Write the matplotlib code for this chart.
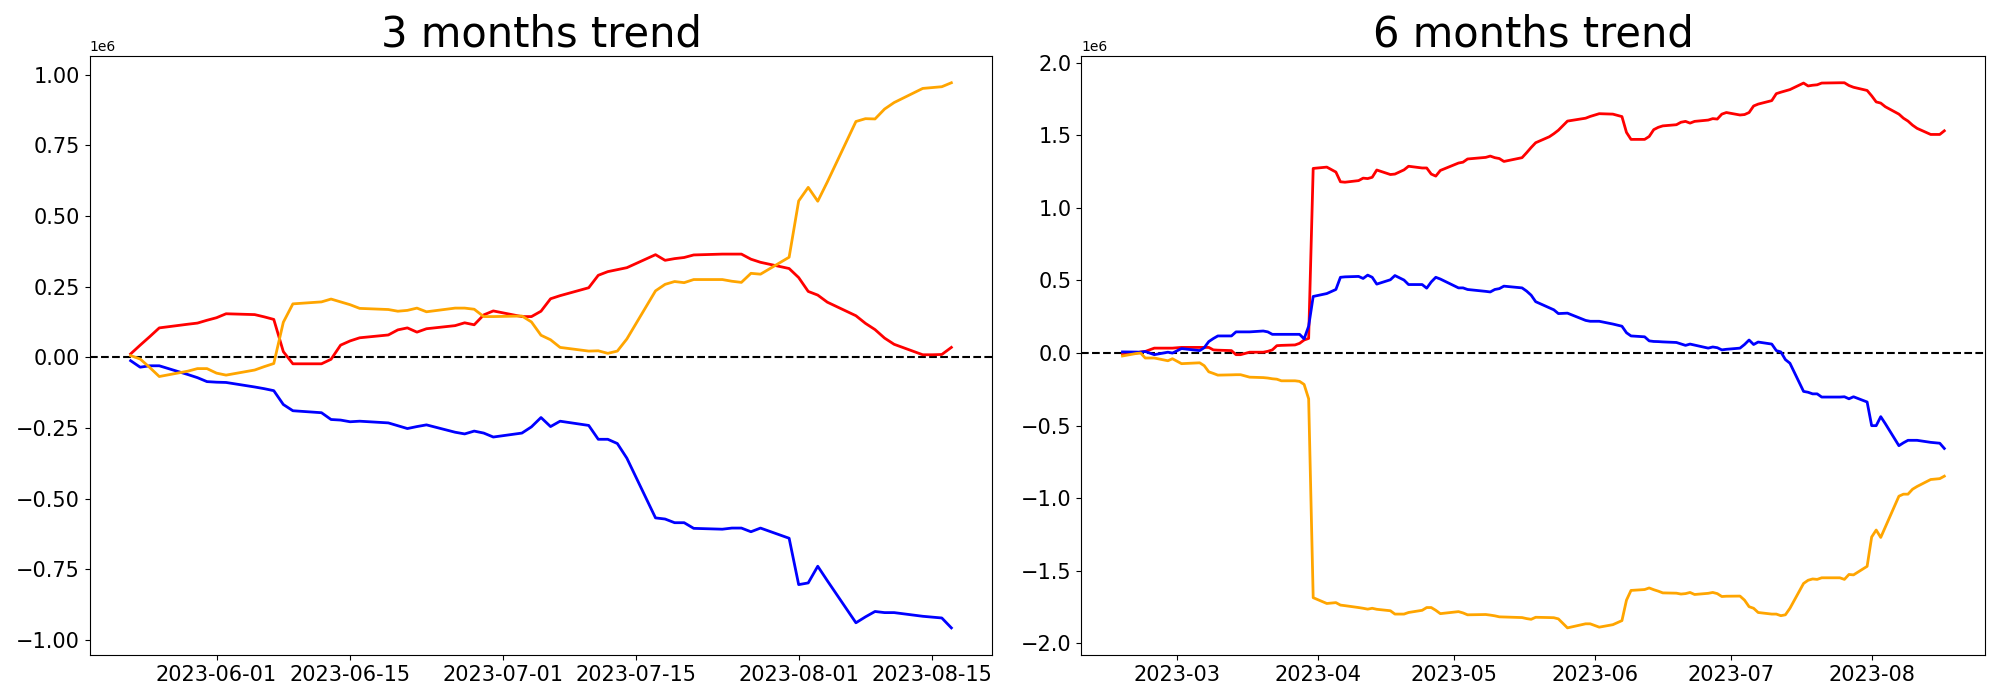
import pandas as pd
from matplotlib import pyplot as plt

# 3 months window: every weekday from 2023-05-23 to 2023-08-17
dates_3m = pd.bdate_range('2023-05-23', '2023-08-17')

red_3m = [
    # may
    0.012, 0.043, 0.073, 0.104, 0.117, 0.121, 0.131,
    # june
    0.140, 0.154, 0.151, 0.143, 0.134, 0.020, -0.023, -0.023, -0.007, 0.043, 0.058,
    0.069, 0.079, 0.097, 0.104, 0.089, 0.101, 0.112, 0.122, 0.115, 0.150, 0.164,
    # july
    0.144, 0.144, 0.163, 0.207, 0.218, 0.246, 0.290, 0.303, 0.310, 0.317, 0.363,
    0.343, 0.349, 0.353, 0.362, 0.365, 0.365, 0.365, 0.347, 0.336, 0.314,
    # august
    0.282, 0.233, 0.220, 0.195, 0.147, 0.120, 0.098, 0.068, 0.046, 0.009, 0.009, 0.010, 0.035,
]
blue_3m = [
    -0.012, -0.035, -0.030, -0.030, -0.061, -0.072, -0.086,
    -0.088, -0.089, -0.105, -0.111, -0.118, -0.167, -0.189, -0.196, -0.220, -0.222, -0.228,
    -0.226, -0.232, -0.242, -0.252, -0.245, -0.239, -0.265, -0.271, -0.261, -0.268, -0.282,
    -0.268, -0.246, -0.213, -0.245, -0.226, -0.241, -0.290, -0.290, -0.305, -0.357, -0.568,
    -0.572, -0.585, -0.585, -0.605, -0.608, -0.604, -0.604, -0.617, -0.604, -0.640,
    -0.804, -0.798, -0.739, -0.790, -0.939, -0.918, -0.899, -0.903, -0.903, -0.916, -0.919, -0.922, -0.957,
]
orange_3m = [
    0.006, -0.006, -0.036, -0.068, -0.049, -0.040, -0.040,
    -0.056, -0.063, -0.045, -0.033, -0.022, 0.124, 0.189, 0.196, 0.206, 0.196, 0.186,
    0.173, 0.169, 0.163, 0.166, 0.174, 0.161, 0.174, 0.174, 0.170, 0.144, 0.144,
    0.146, 0.125, 0.078, 0.062, 0.035, 0.022, 0.023, 0.014, 0.022, 0.065, 0.235,
    0.258, 0.268, 0.264, 0.275, 0.275, 0.269, 0.265, 0.297, 0.294, 0.354,
    0.553, 0.601, 0.552, 0.620, 0.834, 0.844, 0.843, 0.878, 0.901, 0.951, 0.954, 0.957, 0.971,
]

# 6 months window, sampled days
dates_6m = pd.to_datetime([
    '2023-02-17', '2023-02-20', '2023-02-21', '2023-02-22', '2023-02-24', '2023-02-27', '2023-02-28',
    '2023-03-02', '2023-03-06', '2023-03-07', '2023-03-08', '2023-03-09', '2023-03-10', '2023-03-13',
    '2023-03-14', '2023-03-15', '2023-03-17', '2023-03-20', '2023-03-21', '2023-03-22', '2023-03-23',
    '2023-03-24', '2023-03-27', '2023-03-28', '2023-03-29', '2023-03-30', '2023-03-31',
    '2023-04-03', '2023-04-05', '2023-04-06', '2023-04-07', '2023-04-10', '2023-04-11', '2023-04-12',
    '2023-04-13', '2023-04-14', '2023-04-17', '2023-04-18', '2023-04-20', '2023-04-21', '2023-04-24',
    '2023-04-25', '2023-04-26', '2023-04-27', '2023-04-28',
    '2023-05-02', '2023-05-03', '2023-05-04', '2023-05-08', '2023-05-09', '2023-05-10', '2023-05-11',
    '2023-05-12', '2023-05-16', '2023-05-17', '2023-05-18', '2023-05-19', '2023-05-22', '2023-05-23',
    '2023-05-24', '2023-05-26', '2023-05-30', '2023-05-31',
    '2023-06-02', '2023-06-05', '2023-06-07', '2023-06-08', '2023-06-09', '2023-06-12', '2023-06-13',
    '2023-06-14', '2023-06-15', '2023-06-16', '2023-06-19', '2023-06-20', '2023-06-21', '2023-06-22',
    '2023-06-23', '2023-06-26', '2023-06-27', '2023-06-28', '2023-06-29', '2023-06-30',
    '2023-07-03', '2023-07-04', '2023-07-05', '2023-07-06', '2023-07-07', '2023-07-10', '2023-07-11',
    '2023-07-12', '2023-07-13', '2023-07-14', '2023-07-17', '2023-07-18', '2023-07-19', '2023-07-20',
    '2023-07-21', '2023-07-25', '2023-07-26', '2023-07-27', '2023-07-28', '2023-07-31',
    '2023-08-01', '2023-08-02', '2023-08-03', '2023-08-04', '2023-08-07', '2023-08-08', '2023-08-09',
    '2023-08-10', '2023-08-11', '2023-08-14', '2023-08-16', '2023-08-17',
])

red_6m = [
    # feb
    -0.010, 0.000, 0.008, 0.011, 0.034, 0.034, 0.034,
    # mar
    0.039, 0.039, 0.039, 0.039, 0.022, 0.020, 0.017, -0.011, -0.011, 0.006, 0.006, 0.012,
    0.022, 0.051, 0.053, 0.056, 0.067, 0.090, 0.101, 1.272,
    # apr
    1.281, 1.247, 1.180, 1.177, 1.188, 1.205, 1.202, 1.211, 1.261, 1.230, 1.233, 1.262,
    1.287, 1.275, 1.275, 1.233, 1.219, 1.258,
    # may
    1.309, 1.315, 1.337, 1.348, 1.357, 1.346, 1.340, 1.320, 1.346, 1.380, 1.416, 1.449,
    1.490, 1.511, 1.535, 1.598, 1.618, 1.630,
    # jun
    1.649, 1.646, 1.629, 1.520, 1.472, 1.472, 1.492, 1.539, 1.555, 1.565, 1.573, 1.590,
    1.596, 1.584, 1.596, 1.605, 1.615, 1.612, 1.646, 1.657,
    # jul
    1.640, 1.643, 1.657, 1.702, 1.715, 1.739, 1.787, 1.797, 1.806, 1.815, 1.860, 1.840,
    1.845, 1.848, 1.860, 1.862, 1.862, 1.843, 1.831, 1.809,
    # aug
    1.772, 1.730, 1.722, 1.697, 1.646, 1.618, 1.598, 1.570, 1.548, 1.506, 1.506, 1.531,
]
blue_6m = [
    0.008, 0.007, 0.006, 0.011, -0.011, 0.006, 0.000,
    0.031, 0.017, 0.037, 0.079, 0.100, 0.118, 0.118, 0.146, 0.146, 0.146, 0.152, 0.146,
    0.129, 0.129, 0.129, 0.129, 0.129, 0.098, 0.185, 0.390,
    0.410, 0.438, 0.522, 0.525, 0.528, 0.514, 0.537, 0.522, 0.475, 0.505, 0.534, 0.503,
    0.472, 0.472, 0.447, 0.490, 0.522, 0.510,
    0.449, 0.449, 0.438, 0.425, 0.421, 0.438, 0.444, 0.461, 0.449, 0.427, 0.399, 0.354,
    0.312, 0.298, 0.272, 0.275, 0.225, 0.219,
    0.219, 0.200, 0.185, 0.140, 0.118, 0.112, 0.084, 0.080, 0.079, 0.077, 0.073, 0.063,
    0.053, 0.062, 0.055, 0.034, 0.042, 0.037, 0.022, 0.026,
    0.034, 0.059, 0.090, 0.059, 0.076, 0.062, 0.017, 0.008, -0.045, -0.070, -0.264, -0.270,
    -0.281, -0.281, -0.303, -0.303, -0.301, -0.315, -0.301, -0.337,
    -0.500, -0.500, -0.438, -0.486, -0.638, -0.618, -0.601, -0.601, -0.601, -0.615, -0.621, -0.657,
]
orange_6m = [
    -0.020, -0.003, 0.000, -0.034, -0.034, -0.053, -0.039,
    -0.073, -0.067, -0.087, -0.129, -0.140, -0.152, -0.150, -0.149, -0.149, -0.166, -0.169, -0.172,
    -0.177, -0.180, -0.191, -0.191, -0.195, -0.216, -0.315, -1.685,
    -1.725, -1.719, -1.736, -1.740, -1.753, -1.758, -1.764, -1.758, -1.765, -1.775, -1.798, -1.798,
    -1.787, -1.772, -1.753, -1.753, -1.772, -1.795,
    -1.781, -1.790, -1.803, -1.801, -1.805, -1.810, -1.817, -1.818, -1.822, -1.829, -1.834, -1.820,
    -1.822, -1.823, -1.831, -1.893, -1.865, -1.865,
    -1.888, -1.871, -1.843, -1.702, -1.635, -1.629, -1.618, -1.630, -1.640, -1.652, -1.654, -1.660,
    -1.657, -1.649, -1.663, -1.655, -1.649, -1.657, -1.677, -1.675,
    -1.674, -1.702, -1.747, -1.758, -1.787, -1.798, -1.798, -1.809, -1.803, -1.758, -1.587, -1.565,
    -1.556, -1.559, -1.548, -1.548, -1.559, -1.525, -1.528, -1.469,
    -1.267, -1.219, -1.270, -1.199, -0.986, -0.972, -0.972, -0.938, -0.919, -0.871, -0.865, -0.848,
]

scale = 1e6

# now draw plots
fig = plt.figure(figsize=(20, 7), dpi=100)
ax1 = fig.add_axes([0.0448, 0.0641, 0.4514, 0.8566])
ax2 = fig.add_axes([0.5407, 0.0641, 0.452, 0.8566])

panels = [
    (ax1, '3 months trend', dates_3m, red_3m, blue_3m, orange_3m),
    (ax2, '6 months trend', dates_6m, red_6m, blue_6m, orange_6m),
]
for ax, title, d, r, b, o in panels:
    ax.axhline(0, color='black', linestyle='--', linewidth=1.5)
    ax.plot(d, [v * scale for v in r], color='red', linewidth=2)
    ax.plot(d, [v * scale for v in b], color='blue', linewidth=2)
    ax.plot(d, [v * scale for v in o], color='orange', linewidth=2)
    ax.set_title(title, fontsize=30)
    ax.tick_params(labelsize=15)

fig.savefig('out.png', dpi=100)
